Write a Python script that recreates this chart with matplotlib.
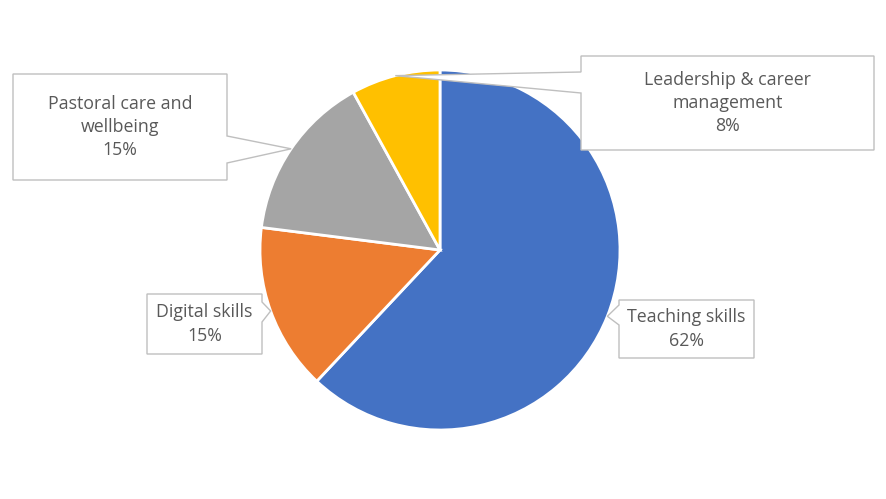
import numpy as np
import matplotlib.pyplot as plt
from matplotlib.patches import Polygon

labels = ["Teaching skills", "Digital skills", "Pastoral care and\nwellbeing",
          "Leadership & career\nmanagement"]
shares = [62, 15, 15, 8]
colors = ["#4472C4", "#ED7D31", "#A5A5A5", "#FFC000"]

W, H = 887, 499
fig = plt.figure(figsize=(W / 100, H / 100), dpi=100)
ax = fig.add_axes([0, 0, 1, 1])

cx, cy, r = 440, H - 250, 180
wedges, _ = ax.pie(shares, colors=colors, startangle=90, counterclock=False,
                   center=(cx, cy), radius=r, frame=True,
                   wedgeprops=dict(edgecolor="white", linewidth=2))
ax.set_xlim(0, W)
ax.set_ylim(0, H)
ax.set_aspect("equal")
ax.axis("off")

# callout boxes in pixel layout (x0, top, x1, bottom, side, pointer base)
boxes = [
    (619, 300, 754, 358, "left", (305, 325)),
    (147, 294, 262, 354, "right", (302, 322)),
    (13, 74, 227, 180, "right", (136, 163)),
    (581, 56, 874, 150, "left", (72, 93)),
]

for w, lab, s, (x0, t, x1, b, side, (b0, b1)) in zip(wedges, labels, shares, boxes):
    a = np.deg2rad((w.theta1 + w.theta2) / 2)
    tip = (cx + r * np.cos(a), cy + r * np.sin(a))
    y0, y1, yb0, yb1 = H - t, H - b, H - b0, H - b1
    if side == "right":
        pts = [(x0, y0), (x1, y0), (x1, yb0), tip, (x1, yb1), (x1, y1), (x0, y1)]
    else:
        pts = [(x0, y0), (x1, y0), (x1, y1), (x0, y1), (x0, yb1), tip, (x0, yb0)]
    ax.add_patch(Polygon(pts, closed=True, facecolor="white", edgecolor="#BFBFBF",
                         linewidth=1, zorder=3))
    ax.text((x0 + x1) / 2, (y0 + y1) / 2, f"{lab}\n{s}%", ha="center", va="center",
            fontsize=12.8, color="#595959", family="Open Sans", linespacing=1.38, zorder=4)

fig.savefig("out.png", dpi=100)
